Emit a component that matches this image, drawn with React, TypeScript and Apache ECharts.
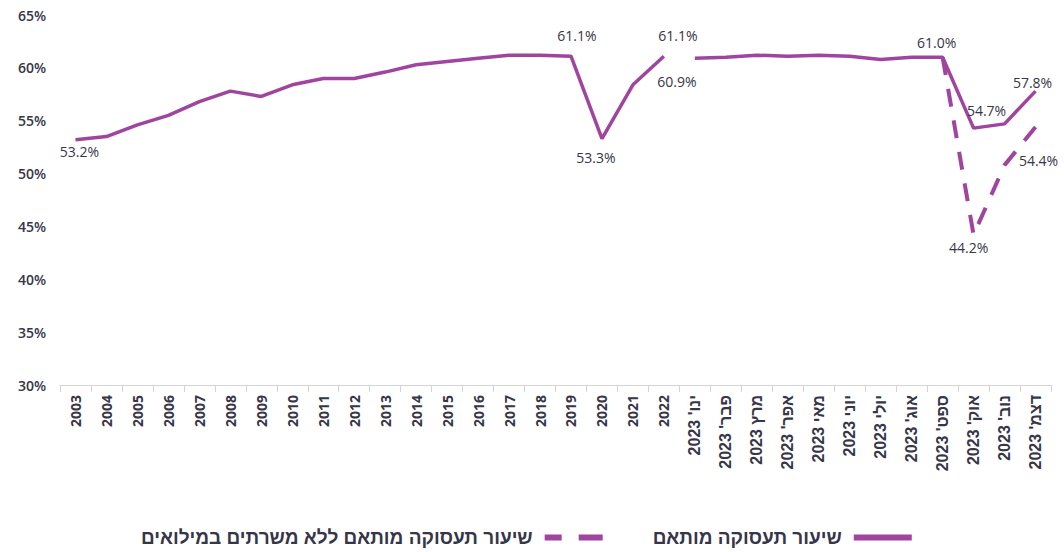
import React, { useEffect, useRef } from "react";
import * as echarts from "echarts";

const years = ["2003","2004","2005","2006","2007","2008","2009","2010","2011","2012","2013","2014","2015","2016","2017","2018","2019","2020","2021","2022"];
const months = ["ינו' 2023","פבר' 2023","מרץ 2023","אפר' 2023","מאי 2023","יוני 2023","יולי 2023","אוג' 2023","ספט' 2023","אוק' 2023","נוב' 2023","דצמ' 2023"];
const categories = [...years, ...months];

const yearlyValues = [53.2,53.5,54.6,55.5,56.8,57.8,57.3,58.4,59.0,59.0,59.6,60.3,60.6,60.9,61.2,61.2,61.1,53.3,58.4,61.1];
const monthlyValues = [60.9,61.0,61.2,61.1,61.2,61.1,60.8,61.0,61.0,54.3,54.7,57.8];
const noReservistsValues = [61.0,44.2,50.8,54.4]; // Sep–Dec 2023
const noReservistsStart = 8; // index of Sep in months

const solidName = "שיעור תעסוקה מותאם";
const dashedName = "שיעור תעסוקה מותאם ללא משרתים במילואים";

const yTicks = { min: 30, max: 65, interval: 5 };

const FONT = "'Open Sans', 'DejaVu Sans', sans-serif";
const HEB = "'Liberation Sans', 'Open Sans', sans-serif";
const PURPLE = "#a0459f";
const TEXT = "#363648";

// label placement for specific points (style only)
const yearLabels: Record<number, any> = {
  0: { position: "bottom", offset: [4, 0] },
  16: { position: "top", distance: 14, offset: [6, 0] },
  17: { position: "bottom", distance: 12, offset: [-6, 0] },
  19: { position: "top", distance: 14, offset: [14, 0] },
};
const monthLabels: Record<number, any> = {
  0: { position: "bottom", distance: 16, offset: [-18, 0] },
  8: { position: "top", distance: 8, offset: [-6, 0] },
  10: { position: "top", distance: 6, offset: [-18, 0] },
  11: { position: "top", distance: 2, offset: [-3, 0] },
};
const dashedLabels: Record<number, any> = {
  1: { position: "bottom", distance: 6, offset: [-5, 0] },
  3: { position: "bottom", distance: 26, offset: [3, 0] },
};

const labelBase = {
  show: true,
  formatter: (p: any) => `${Number(p.value).toFixed(1)}%`,
  fontSize: 14,
  fontFamily: FONT,
  color: TEXT,
};

export default function App() {
  const ref = useRef<HTMLDivElement>(null);
  useEffect(() => {
    if (!ref.current) return;
    const chart = echarts.init(ref.current, undefined, { renderer: "svg" });

    const yearData = categories.map((_, i) => {
      if (i >= years.length) return null;
      const v = yearlyValues[i];
      const lab = yearLabels[i];
      return lab ? { value: v, label: { ...labelBase, ...lab } } : v;
    });
    const monthData = categories.map((_, i) => {
      const m = i - years.length;
      if (m < 0) return null;
      const v = monthlyValues[m];
      const lab = monthLabels[m];
      return lab ? { value: v, label: { ...labelBase, ...lab } } : v;
    });
    const dashedData = categories.map((_, i) => {
      const k = i - years.length - noReservistsStart;
      if (k < 0) return null;
      const v = noReservistsValues[k];
      const lab = dashedLabels[k];
      return lab ? { value: v, label: { ...labelBase, ...lab } } : v;
    });

    const lineCommon = {
      type: "line",
      symbol: "circle",
      symbolSize: 0,
      showSymbol: true,
      connectNulls: false,
      itemStyle: { color: PURPLE },
      label: { show: false },
      emphasis: { disabled: true },
    };

    chart.setOption({
      animation: false,
      textStyle: { fontFamily: FONT },
      grid: { left: 60, right: 13, top: 15, bottom: 167 },
      legend: {
        bottom: 0,
        left: 136,
        align: "right",
        itemGap: 50,
        itemWidth: 58,
        itemHeight: 6,
        textStyle: { fontSize: 19, fontWeight: "bold", color: TEXT, fontFamily: HEB, padding: [0, 7, 0, 0] },
        data: [
          { name: dashedName, icon: "path://M0,0H17V6H0Z M34,0H58V6H34Z" },
          { name: solidName, icon: "path://M0,0H58V6H0Z" },
        ],
      },
      xAxis: {
        type: "category",
        data: categories,
        boundaryGap: true,
        axisLine: { lineStyle: { color: "#d4d4d4", width: 1 } },
        axisTick: { show: true, length: 7, lineStyle: { color: "#d4d4d4" } },
        axisLabel: {
          rotate: 90,
          interval: 0,
          margin: 10,
          fontSize: 14,
          fontWeight: "bold",
          color: TEXT,
          fontFamily: FONT,
          formatter: (v: string, i: number) => (i < years.length ? v : `{h|${v}}`),
          rich: {
            h: { fontFamily: HEB, fontSize: 16, fontWeight: "bold", color: TEXT },
          },
        },
      },
      yAxis: {
        type: "value",
        min: yTicks.min,
        max: yTicks.max,
        interval: yTicks.interval,
        axisLine: { show: false },
        axisTick: { show: false },
        splitLine: { show: false },
        axisLabel: {
          formatter: (v: number) => `${v}%`,
          fontSize: 14,
          fontWeight: 600,
          color: TEXT,
          margin: 14,
          fontFamily: FONT,
        },
      },
      series: [
        {
          ...lineCommon,
          name: solidName,
          data: yearData,
          lineStyle: { color: PURPLE, width: 3.5 },
        },
        {
          ...lineCommon,
          name: solidName,
          data: monthData,
          lineStyle: { color: PURPLE, width: 3.5 },
        },
        {
          ...lineCommon,
          name: dashedName,
          data: dashedData,
          lineStyle: { color: PURPLE, width: 4, type: [18, 14] },
        },
      ],
    });
    return () => chart.dispose();
  }, []);
  return (
    <div
      ref={ref}
      style={{ position: "absolute", left: 0, top: 0, width: 1064, height: 552 }}
    />
  );
}
